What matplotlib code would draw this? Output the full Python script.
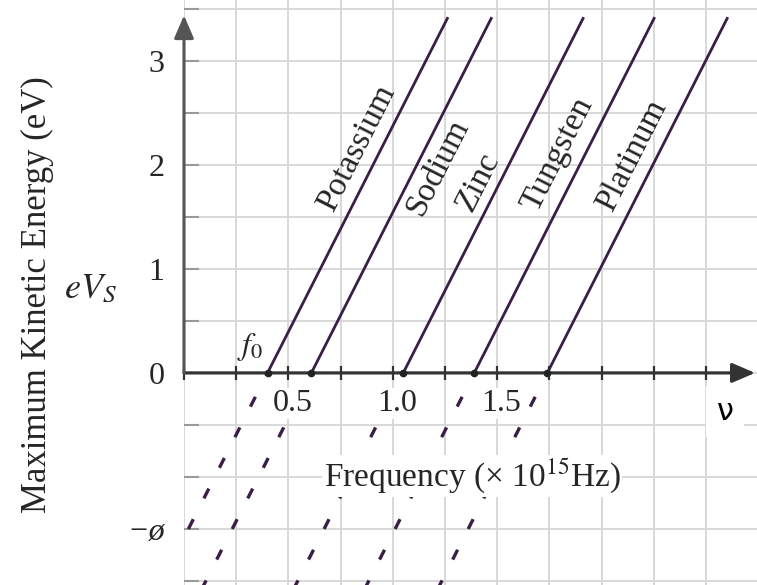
import numpy as np
import matplotlib.pyplot as plt
from matplotlib.ticker import MultipleLocator, FixedLocator

plt.rcParams['font.family'] = 'Liberation Serif'
plt.rcParams['mathtext.fontset'] = 'stix'
plt.rcParams['lines.scale_dashes'] = False

# threshold frequencies (x 10^15 Hz) where KE_max = 0 for each metal
metals = ["Potassium", "Sodium", "Zinc", "Tungsten", "Platinum"]
f0 = [0.40, 0.61, 1.05, 1.39, 1.74]
h_ev = 3.96      # slope of every line, eV per 10^15 Hz
ke_top = 3.41    # solid lines stop at this kinetic energy (eV)

yticks = [-1.5, 0, 1, 2, 3]
ytick_labels = ["−ø", "0", "1", "2", "3"]
xticks = [0.5, 1.0, 1.5]
xtick_labels = ["0.5", "1.0", "1.5"]

# where the names sit: shift in f from the line, and the KE of the text baseline start
name_shift = [-0.074, 0.151, -0.061, -0.090, -0.079]
name_ke = [1.54, 1.50, 1.54, 1.54, 1.54]

line_col = '#3a1e46'
ink = '#262626'

fig = plt.figure(figsize=(7.57, 5.85), dpi=100)
ax = fig.add_axes([184 / 757, 0, 573 / 757, 1])
ax.set_xlim(0, 2.744)
ax.set_ylim(-2.04, 3.587)

# light grid every 0.25 in f and 0.5 eV in energy
ax.xaxis.set_major_locator(FixedLocator(xticks))
ax.xaxis.set_minor_locator(MultipleLocator(0.25))
ax.yaxis.set_major_locator(FixedLocator(yticks))
ax.yaxis.set_minor_locator(MultipleLocator(0.5))
ax.grid(which='both', color='#d6d6d6', lw=1.3)
ax.set_axisbelow(True)

for s in ax.spines.values():
    s.set_visible(False)
ax.spines['bottom'].set_position(('data', 0))

ax.set_yticklabels(ytick_labels)
ax.tick_params(axis='x', which='both', direction='inout', length=10, width=1.6,
               color='#333333', labelbottom=False)
ax.tick_params(axis='y', which='both', direction='in', length=11, width=1.5,
               color='#9a9a9a', pad=14, labelsize=23, labelcolor=ink)
ax.get_yticklabels()[0].set_style('italic')
for t in ax.yaxis.get_major_ticks() + ax.yaxis.get_minor_ticks():
    if t.get_loc() < 0:
        t.tick1line.set_color('#333333')

# frequency labels sit on white patches above the dashed extensions
for xv, lab in zip(xticks, xtick_labels):
    ax.annotate(lab, (xv, 0), xytext=(3, -11.5), textcoords='offset points',
                ha='center', va='top', fontsize=23, color=ink, zorder=6,
                bbox=dict(facecolor='white', edgecolor='none', pad=1))

# axes drawn as arrows
ax.annotate('', xy=(2.735, 0), xytext=(0, 0), annotation_clip=False,
            arrowprops=dict(arrowstyle='-|>,head_length=0.7,head_width=0.3', color='#333333',
                            lw=2.3, shrinkA=0, shrinkB=0, mutation_scale=20), zorder=4)
ax.annotate('', xy=(0, 3.44), xytext=(0, 0), annotation_clip=False,
            arrowprops=dict(arrowstyle='-|>,head_length=0.7,head_width=0.3', color='#555555',
                            lw=2.2, shrinkA=0, shrinkB=0, mutation_scale=20), zorder=4)

p0 = ax.transData.transform((0, 0))
p1 = ax.transData.transform((1, h_ev))
angle = np.degrees(np.arctan2(p1[1] - p0[1], p1[0] - p0[0]))

for name, fc, dx, ke in zip(metals, f0, name_shift, name_ke):
    f_top = fc + ke_top / h_ev
    ax.plot([fc, f_top], [0, ke_top], color=line_col, lw=2.0, zorder=3)
    # extension below the axis, back towards f = 0
    ax.plot([fc, 0], [0, -h_ev * fc], color=line_col, lw=2.4,
            linestyle=(5.4, (7.9, 16.8)), zorder=3)
    ax.text(fc + ke / h_ev + dx, ke, name, rotation=angle, rotation_mode='anchor',
            ha='left', va='baseline', fontsize=24, color=ink)

ax.plot(f0, np.zeros(len(f0)), 'o', ms=4.5, color='#222222', zorder=5)

fig.text(37 / 757, 1 - 295 / 585, "Maximum Kinetic Energy (eV)", rotation=90,
         ha='center', va='center', fontsize=25, color=ink)
fig.text(90 / 757, 1 - 290 / 585, "$eV_S$", ha='center', va='center', fontsize=26, color=ink)
fig.text(250 / 757, 1 - 347 / 585, "$f_0$", ha='center', va='center', fontsize=23, color=ink)
fig.text(472 / 757, 1 - 476 / 585, "Frequency (× 10$^{15}$Hz)", ha='center', va='center',
         fontsize=24, color=ink, bbox=dict(facecolor='white', edgecolor='none', pad=1))
fig.text(725 / 757, 1 - 411 / 585, "ν", family='DejaVu Sans', ha='center', va='center',
         fontsize=22, color='black',
         bbox=dict(boxstyle='square,pad=0.36', facecolor='white', edgecolor='none'))

fig.savefig('out.png', dpi=100)
